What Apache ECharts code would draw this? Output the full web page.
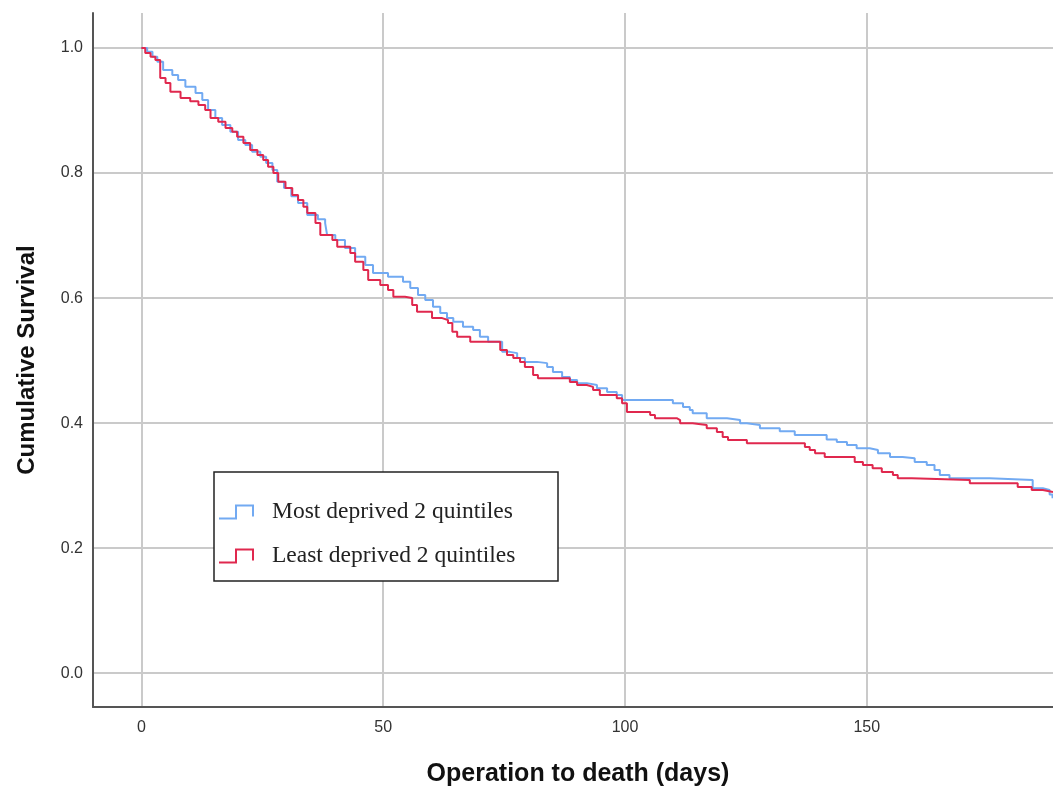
<!DOCTYPE html>
<html>
<head>
<meta charset="utf-8">
<style>
  html, body { margin: 0; padding: 0; background: #ffffff; }
  #chart { width: 1053px; height: 789px; }
</style>
<script src="https://cdn.jsdelivr.net/npm/echarts@6/dist/echarts.min.js"></script>
</head>
<body>
<div id="chart"></div>
<script>
// Series names
const seriesNames = ['Most deprived 2 quintiles', 'Least deprived 2 quintiles'];

// Kaplan-Meier step points: [day, cumulative survival] (survival drops to value at that day)
const mostDeprived = [
  [0, 1.000], [1.2, 0.994], [2.3, 0.986], [3.3, 0.978], [4.5, 0.965], [6.4, 0.957],
  [7.6, 0.949], [9.1, 0.938], [11.2, 0.928], [12.6, 0.917], [13.8, 0.901], [15.3, 0.888],
  [16.7, 0.877], [18.4, 0.866], [20.0, 0.853], [21.5, 0.845], [22.9, 0.834], [24.6, 0.826],
  [25.8, 0.816], [27.1, 0.805], [28.1, 0.786], [29.5, 0.776], [31.0, 0.763], [32.4, 0.752],
  [34.3, 0.733], [36.5, 0.726], [38.0, 0.720], [38.4, 0.701], [40.1, 0.693], [42.1, 0.680], [44.2, 0.666],
  [46.3, 0.653], [47.9, 0.640], [51.0, 0.634], [54.1, 0.626], [55.6, 0.616], [57.2, 0.605],
  [58.7, 0.597], [60.3, 0.586], [61.8, 0.576], [63.2, 0.568], [64.5, 0.562], [66.5, 0.554],
  [68.6, 0.549], [70.0, 0.538], [71.7, 0.530], [74.6, 0.514], [76.2, 0.512], [77.7, 0.504],
  [79.3, 0.498], [81.8, 0.496], [83.9, 0.490], [85.1, 0.482], [87.0, 0.474], [88.6, 0.469],
  [90.1, 0.464], [92.1, 0.461], [94.2, 0.456], [96.3, 0.450], [98.3, 0.445], [99.4, 0.437],
  [109.9, 0.432], [112.0, 0.426], [113.4, 0.421], [114.0, 0.416], [116.9, 0.408], [121.1, 0.405],
  [123.8, 0.400], [125.2, 0.397], [127.9, 0.392], [132.0, 0.387], [135.1, 0.381], [141.7, 0.374],
  [143.8, 0.370], [145.9, 0.365], [147.9, 0.360], [150.6, 0.357], [152.3, 0.352], [154.8, 0.346],
  [157.4, 0.344], [159.9, 0.338], [162.4, 0.333], [164.0, 0.325], [165.1, 0.317], [167.1, 0.312],
  [175.4, 0.309], [184.3, 0.296], [186.4, 0.293], [187.8, 0.286], [188.4, 0.280]
];

const leastDeprived = [
  [0, 1.000], [0.8, 0.992], [1.9, 0.986], [2.9, 0.981], [3.9, 0.952], [5.0, 0.944],
  [6.0, 0.930], [8.1, 0.920], [10.1, 0.915], [11.8, 0.909], [13.2, 0.901], [14.3, 0.888],
  [15.9, 0.882], [17.4, 0.872], [18.8, 0.866], [19.8, 0.858], [21.1, 0.848], [22.5, 0.837],
  [24.0, 0.829], [25.2, 0.821], [26.2, 0.810], [27.3, 0.800], [28.3, 0.786], [29.8, 0.776],
  [31.2, 0.765], [32.4, 0.757], [33.5, 0.746], [34.3, 0.736], [36.0, 0.720], [37.0, 0.701],
  [39.5, 0.693], [40.5, 0.682], [43.2, 0.672], [44.2, 0.658], [45.9, 0.645], [46.9, 0.629],
  [49.4, 0.621], [51.0, 0.613], [52.1, 0.602], [54.5, 0.600], [56.0, 0.589], [57.0, 0.578],
  [60.1, 0.568], [62.2, 0.565], [63.4, 0.560], [64.3, 0.546], [65.3, 0.538], [68.0, 0.530],
  [74.2, 0.517], [75.6, 0.509], [76.9, 0.504], [78.3, 0.498], [79.3, 0.490], [81.0, 0.477],
  [82.0, 0.472], [88.6, 0.466], [90.1, 0.461], [92.1, 0.458], [93.4, 0.453], [94.8, 0.445],
  [98.3, 0.440], [99.4, 0.432], [100.4, 0.418], [105.2, 0.413], [106.2, 0.408], [110.7, 0.405],
  [111.4, 0.400], [114.0, 0.397], [116.9, 0.392], [119.0, 0.386], [120.2, 0.378], [121.3, 0.373],
  [125.2, 0.368], [137.2, 0.362], [138.2, 0.357], [139.3, 0.352], [141.3, 0.346], [147.5, 0.338],
  [149.2, 0.333], [151.2, 0.328], [153.1, 0.322], [155.4, 0.317], [156.4, 0.312], [159.3, 0.309],
  [171.3, 0.304], [181.2, 0.298], [184.1, 0.293], [186.4, 0.290], [188.5, 0.290]
];

// Tick labels
const xTicks = [0, 50, 100, 150];
const yTicks = [0.0, 0.2, 0.4, 0.6, 0.8, 1.0];

// Axis titles
const xTitle = 'Operation to death (days)';
const yTitle = 'Cumulative Survival';

const colors = ['#72aaf2', '#e0284e'];
const stepIcon = 'path://M0,13 L16,13 L16,0 L35,0 L35,12 L33,12 L33,2 L18,2 L18,15 L0,15 Z';

const chart = echarts.init(document.getElementById('chart'), null, { renderer: 'canvas' });

const gridLine = { show: true, lineStyle: { color: '#cacaca', width: 2, type: 'solid' } };

chart.setOption({
  backgroundColor: '#ffffff',
  animation: false,
  grid: { left: 93, right: 0, top: 13, bottom: 82, containLabel: false, outerBoundsMode: 'none' },
  xAxis: {
    type: 'value',
    min: -10,
    max: 188.5,
    name: xTitle,
    nameLocation: 'middle',
    nameGap: 55,
    nameTextStyle: { fontFamily: 'Liberation Sans, Arial, sans-serif', fontSize: 25, fontWeight: 'bold', color: '#111', padding: [0, 0, 0, 10] },
    axisLine: { show: true, onZero: false, lineStyle: { color: '#555', width: 2 } },
    axisTick: { show: false, customValues: xTicks },
    axisLabel: { customValues: xTicks, margin: 13, fontFamily: 'Liberation Sans, Arial, sans-serif', fontSize: 16, color: '#333' },
    splitLine: gridLine
  },
  yAxis: {
    type: 'value',
    min: -0.054,
    max: 1.056,
    name: yTitle,
    nameLocation: 'middle',
    nameGap: 54,
    nameRotate: 90,
    nameTextStyle: { fontFamily: 'Liberation Sans, Arial, sans-serif', fontSize: 24, fontWeight: 'bold', color: '#111' },
    axisLine: { show: true, onZero: false, lineStyle: { color: '#555', width: 2 } },
    axisTick: { show: false, customValues: yTicks },
    axisLabel: {
      customValues: yTicks, margin: 10, fontFamily: 'Liberation Sans, Arial, sans-serif', fontSize: 16, color: '#333',
      formatter: v => Number(v).toFixed(1)
    },
    splitLine: gridLine
  },
  legend: {
    orient: 'vertical',
    left: 214,
    top: 472,
    data: seriesNames,
    icon: stepIcon,
    itemWidth: 35,
    itemHeight: 15,
    itemGap: 20,
    padding: [28, 26, 13, 5],
    borderColor: '#222',
    borderWidth: 1.5,
    backgroundColor: '#ffffff',
    selectedMode: false,
    itemStyle: { borderWidth: 0 },
    textStyle: {
      fontFamily: 'Liberation Serif, Times New Roman, serif',
      fontSize: 23.5, lineHeight: 24, color: '#222',
      width: 260, padding: [0, 0, 0, 13]
    }
  },
  series: [
    {
      name: seriesNames[0], type: 'line', step: 'end', data: mostDeprived,
      showSymbol: false, symbol: 'none', color: colors[0],
      itemStyle: { color: colors[0] },
      lineStyle: { color: colors[0], width: 2 }, z: 2
    },
    {
      name: seriesNames[1], type: 'line', step: 'end', data: leastDeprived,
      showSymbol: false, symbol: 'none', color: colors[1],
      itemStyle: { color: colors[1] },
      lineStyle: { color: colors[1], width: 2 }, z: 3
    }
  ]
});
</script>
</body>
</html>
